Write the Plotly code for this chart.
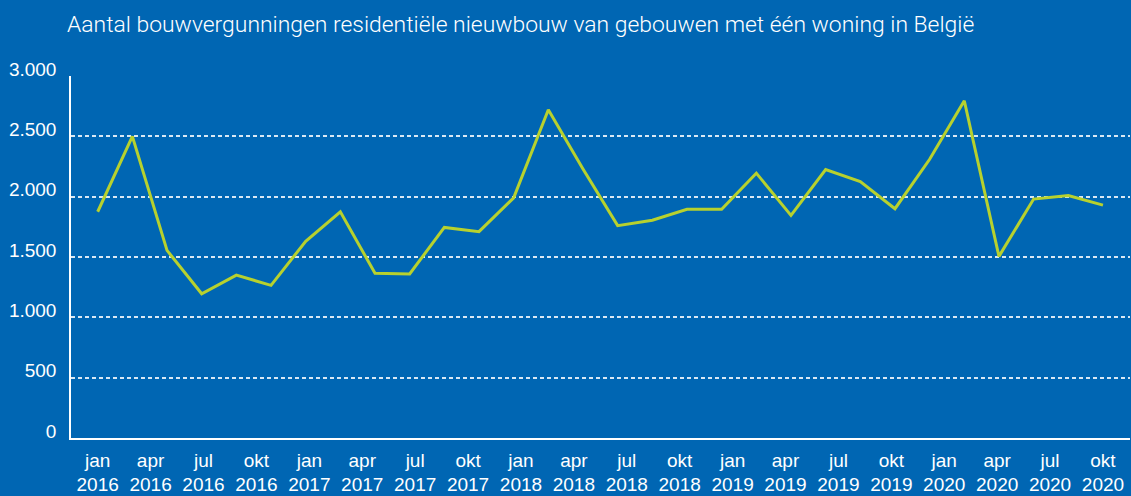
import plotly.graph_objects as go

# Bi-monthly building permits (single-family new residential buildings), Belgium
periods = [
    "jan 2016", "mrt 2016", "mei 2016", "jul 2016", "sep 2016", "nov 2016",
    "jan 2017", "mrt 2017", "mei 2017", "jul 2017", "sep 2017", "nov 2017",
    "jan 2018", "mrt 2018", "mei 2018", "jul 2018", "sep 2018", "nov 2018",
    "jan 2019", "mrt 2019", "mei 2019", "jul 2019", "sep 2019", "nov 2019",
    "jan 2020", "mrt 2020", "mei 2020", "jul 2020", "sep 2020", "nov 2020",
]
permits = [
    1875, 2500, 1555, 1195, 1350, 1265,
    1630, 1875, 1365, 1360, 1745, 1710,
    1990, 2720, 2230, 1760, 1805, 1895,
    1895, 2195, 1845, 2225, 2125, 1900,
    2310, 2795, 1505, 1980, 2010, 1930,
]

# Quarterly axis labels
tick_labels = [
    "jan<br>2016", "apr<br>2016", "jul<br>2016", "okt<br>2016",
    "jan<br>2017", "apr<br>2017", "jul<br>2017", "okt<br>2017",
    "jan<br>2018", "apr<br>2018", "jul<br>2018", "okt<br>2018",
    "jan<br>2019", "apr<br>2019", "jul<br>2019", "okt<br>2019",
    "jan<br>2020", "apr<br>2020", "jul<br>2020", "okt<br>2020",
]
y_ticks = [0, 500, 1000, 1500, 2000, 2500, 3000]
y_tick_text = ["0", "500", "1.000", "1.500", "2.000", "2.500", "3.000"]

title_text = "Aantal bouwvergunningen residentiële nieuwbouw van gebouwen met één woning in België"

BG = "#0066b3"
LINE = "#b7d12e"
TICK_FONT = dict(family="Liberation Sans Narrow, Arial Narrow, sans-serif", size=19, color="white")

n = len(permits)
x = list(range(n))
span = n - 1
tick_pos = [i * span / (len(tick_labels) - 1) for i in range(len(tick_labels))]

fig = go.Figure(
    go.Scatter(
        x=x,
        y=permits,
        mode="lines",
        line=dict(color=LINE, width=3),
        customdata=periods,
        hovertemplate="%{customdata}: %{y:,}<extra></extra>",
    )
)

fig.update_layout(
    width=1131,
    height=496,
    paper_bgcolor=BG,
    plot_bgcolor=BG,
    margin=dict(l=71, r=1, t=76, b=56),
    showlegend=False,
    title=dict(
        text=title_text,
        font=dict(family="Roboto, sans-serif", size=22.9, color="white", weight=300),
        xref="container",
        yref="container",
        x=67 / 1131,
        xanchor="left",
        y=1 - 24 / 496,
        yanchor="middle",
    ),
)

fig.update_xaxes(
    range=[-0.77, span + 0.78],
    tickmode="array",
    tickvals=tick_pos,
    ticktext=tick_labels,
    tickfont=TICK_FONT,
    showgrid=False,
    zeroline=False,
    showline=True,
    linecolor="white",
    linewidth=1.5,
    ticks="",
    ticklabelstandoff=4,
)

fig.update_yaxes(
    range=[0, 3000],
    tickmode="array",
    tickvals=y_ticks,
    ticktext=y_tick_text,
    tickfont=TICK_FONT,
    showgrid=True,
    gridcolor="rgba(255,255,255,0.85)",
    gridwidth=1.5,
    griddash="4px,3px",
    zeroline=False,
    showline=True,
    linecolor="white",
    linewidth=1.5,
    ticks="",
    ticklabelstandoff=9,
    ticklabelshift=-7,
)

fig.write_html("out.html")
